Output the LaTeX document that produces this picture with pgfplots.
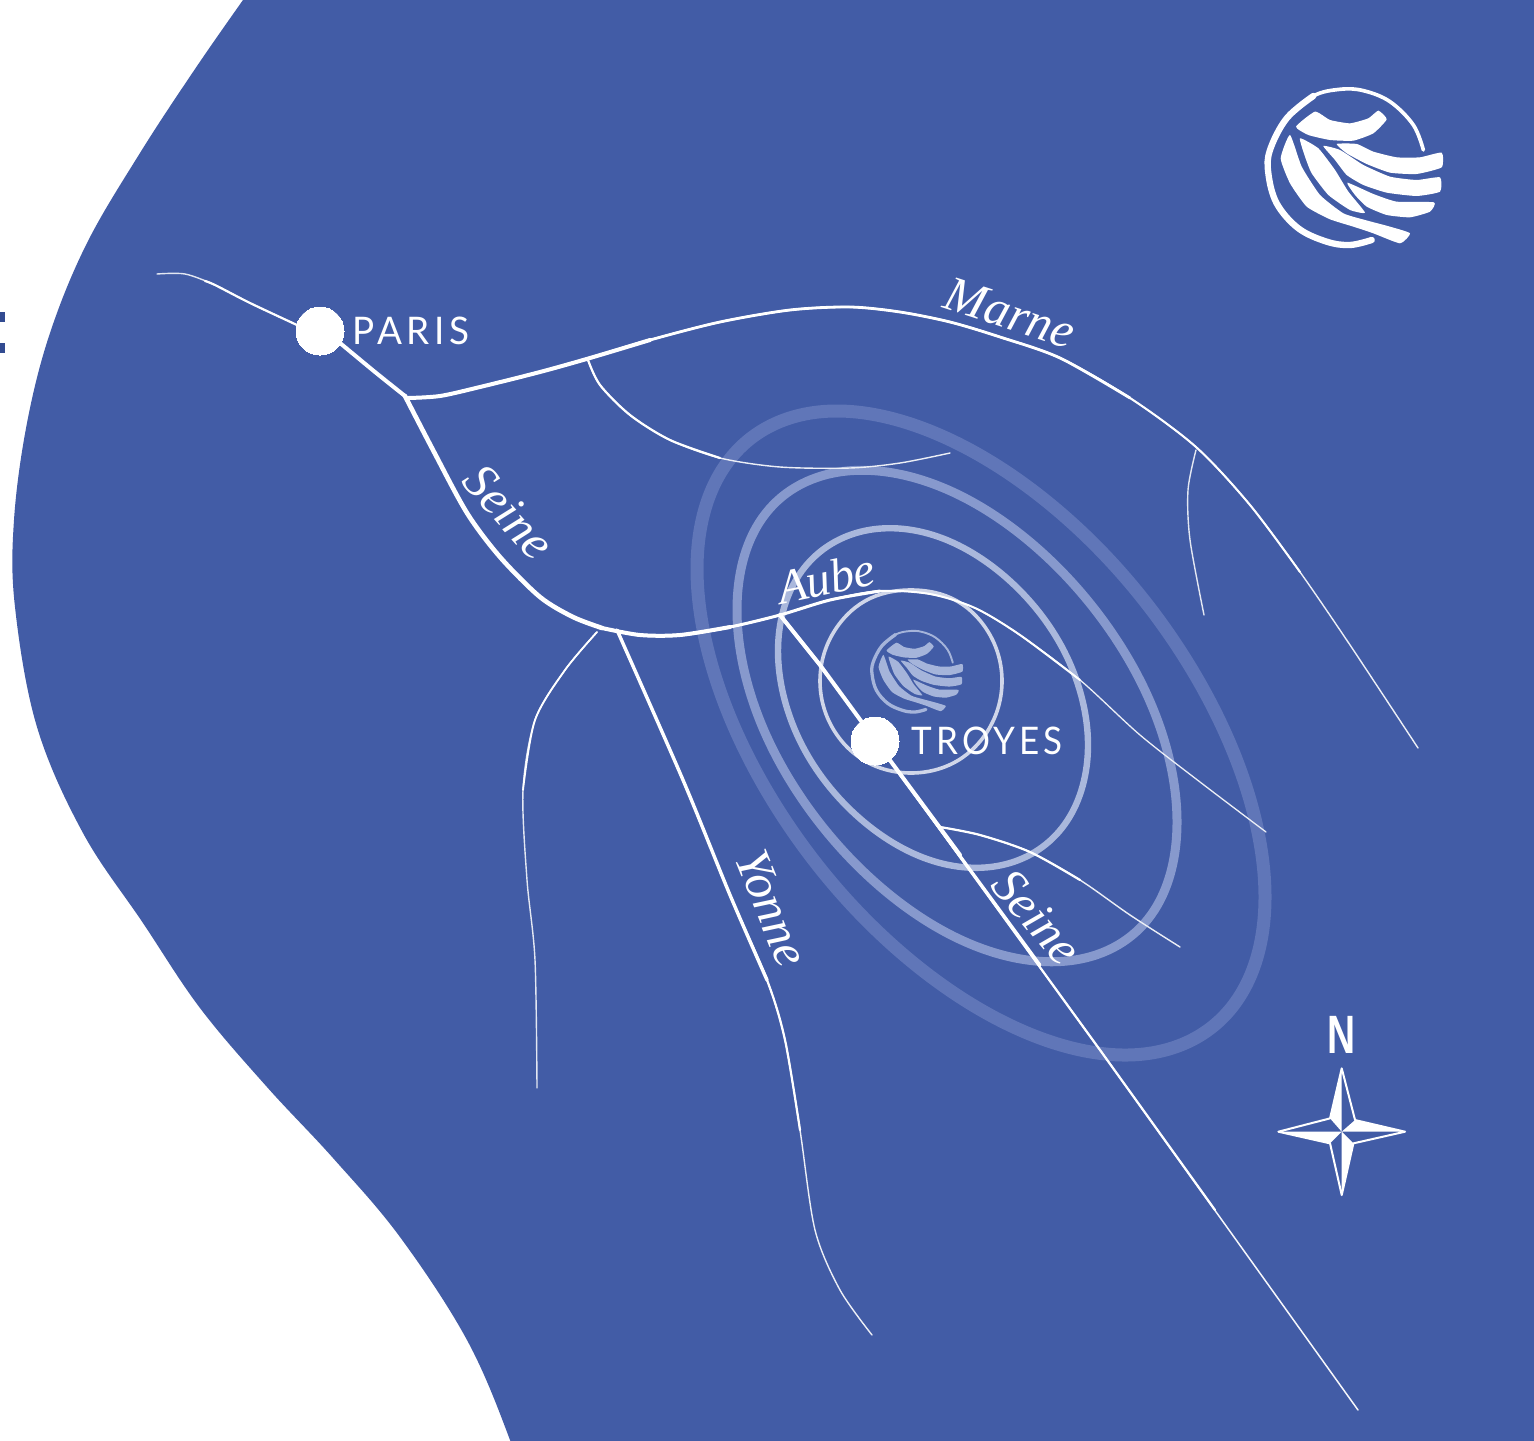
\documentclass[border=0pt]{standalone}
\usepackage{pgfplots}
\usepackage{fontspec}
\pgfplotsset{compat=1.18}
\setmainfont{Liberation Serif}
\newfontfamily\capsfont[LetterSpace=12]{Lato}
\newfontfamily\nfont{Liberation Sans}
\definecolor{land}{RGB}{66,92,166}
\definecolor{ringa}{RGB}{170,184,220}
\definecolor{ringb}{RGB}{135,153,205}
\definecolor{ringc}{RGB}{96,118,184}
\definecolor{smalllogo}{RGB}{165,180,218}
\definecolor{dark}{RGB}{50,75,145}
% logo drawn in zoom pixel units around its centre
\newcommand{\logo}[4]{%
\begin{scope}[shift={(#1pt,#2pt)},x=#3pt,y=-#3pt]
\begin{scope}[shift={(-315,-291)}]
\draw[#4,line width=11*#3pt,line cap=round] plot[smooth,tension=.6] coordinates {(550,240)(520,165)(450,95)(370,62)(300,58)(220,78)(140,145)};
\draw[#4,line width=19*#3pt,line cap=round] plot[smooth,tension=.6] coordinates {(220,78)(140,145)(90,240)(85,310)(110,400)(175,475)(260,515)(330,525)(395,510)};
\fill[#4] plot[smooth cycle,tension=.3] coordinates {(225,125)(270,150)(330,160)(385,145)(415,122)(440,148)(400,190)(340,212)(270,210)(205,195)(168,170)};
\fill[#4] plot[smooth cycle,tension=.3] coordinates {(290,222)(350,222)(400,245)(470,262)(540,262)(605,248)(605,292)(530,312)(450,308)(380,282)(320,250)};
\fill[#4] plot[smooth cycle,tension=.3] coordinates {(250,228)(300,240)(370,285)(450,320)(530,330)(600,322)(600,365)(530,378)(440,368)(370,345)(320,315)(285,270)};
\fill[#4] plot[smooth cycle,tension=.3] coordinates {(322,338)(400,372)(470,395)(582,397)(570,425)(510,442)(440,435)(380,410)(345,375)};
\fill[#4] plot[smooth cycle,tension=.3] coordinates {(180,205)(235,235)(285,300)(325,365)(375,428)(330,420)(265,375)(215,310)(195,260)};
\fill[#4] plot[smooth cycle,tension=.3] coordinates {(150,195)(185,290)(240,375)(310,430)(375,450)(450,470)(510,490)(480,520)(400,490)(340,470)(270,448)(200,410)(150,340)(122,265)};
\end{scope}
\end{scope}}
\begin{document}
\begin{tikzpicture}
\begin{axis}[
  width=767pt,height=720pt,scale only axis,
  xmin=0,xmax=1534,ymin=0,ymax=1440,y dir=reverse,
  hide axis,clip=true,
  line cap=round,line join=round,
  every axis plot/.append style={no markers}
]
\addplot[fill=white,draw=none] coordinates {(0,0)(1534,0)(1534,1440)(0,1440)} --cycle;
% land
\addplot[fill=land,draw=none,smooth,tension=.6] coordinates {(300,-80)(243,0)(193,72)(140,153)(87,243)(50,333)(27,423)(14,520)(15,607)(37,727)(83,833)(143,923)(200,1008)(267,1087)(333,1158)(400,1237)(467,1340)(510,1440)(535,1520)} -- (axis cs:1700,1520) -- (axis cs:1700,-80) -- cycle;
% fragment of a word at the left edge
\addplot[fill=dark,draw=none] coordinates {(0,312)(5,312)(5,322)(0,322)} --cycle;
\addplot[fill=dark,draw=none] coordinates {(0,343)(5,343)(5,353)(0,353)} --cycle;
% rings
\addplot[ringc,line width=6.5pt,smooth cycle,tension=.63] coordinates {(1265,897)(1227,1013)(1123,1055)(981,1010)(839,891)(735,729)(697,569)(735,453)(839,411)(981,456)(1123,575)(1227,737)};
\addplot[ringb,line width=4.5pt,smooth cycle,tension=.63] coordinates {(1177,822)(1148,919)(1067,961)(957,938)(847,855)(766,735)(737,610)(766,513)(847,471)(957,494)(1067,577)(1148,697)};
\addplot[ringa,line width=3.2pt,smooth cycle,tension=.63] coordinates {(1088,745)(1067,821)(1010,863)(933,861)(856,815)(799,739)(778,651)(799,575)(856,533)(933,535)(1010,581)(1067,657)};
\addplot[white!75!land,line width=1.8pt,smooth cycle,tension=.63] coordinates {(1002,681)(990,727)(957,761)(911,773)(865,761)(832,727)(820,681)(832,635)(865,601)(911,590)(957,601)(990,635)};
% Seine west of Paris
\addplot[white!85!land,line width=.7pt,smooth] coordinates {(157,274)(185,274)(215,285)(250,303)(297,325)};
\addplot[white,line width=1.1pt,smooth] coordinates {(205,281)(215,285)(250,303)(297,325)};
\addplot[white,line width=2pt,smooth] coordinates {(340,343)(375,372)(405,396)};
% Seine Paris to confluence
\addplot[white,line width=2.3pt,smooth] coordinates {(405,396)(433,450)(467,513)(500,557)(540,597)(573,617)(602,628)};
% Marne
\addplot[white!90!land,line width=.7pt,smooth] coordinates {(408,398)(440,396)(480,387)(540,372)(590,358)(650,340)(720,322)(790,310)(850,307)(900,312)(950,322)(1000,337)(1060,358)(1130,398)(1196,447)(1250,505)(1300,572)(1350,645)(1418,748)};
\addplot[white,line width=1pt,smooth] coordinates {(408,398)(440,396)(480,387)(540,372)(590,358)(650,340)(720,322)(790,310)(850,307)(900,312)(950,322)(1000,337)(1060,358)(1130,398)(1196,447)(1250,505)(1300,572)};
\addplot[white,line width=1.4pt,smooth] coordinates {(408,398)(440,396)(480,387)(540,372)(590,358)(650,340)(720,322)(790,310)(850,307)(900,312)(950,322)(1000,337)(1060,358)(1130,398)};
\addplot[white,line width=2pt,smooth] coordinates {(408,398)(440,396)(480,387)(540,372)(590,358)(650,340)};
% Marne tributaries
\addplot[white!90!land,line width=.7pt,smooth] coordinates {(588,360)(600,385)(630,415)(670,440)(720,458)(780,467)(850,468)(900,463)(950,453)};
\addplot[white,line width=1.1pt,smooth] coordinates {(588,360)(600,385)(630,415)(670,440)(720,458)};
\addplot[white!85!land,line width=.7pt,smooth] coordinates {(1196,450)(1188,490)(1190,540)(1204,615)};
% Aube
\addplot[white!90!land,line width=.65pt,smooth] coordinates {(602,628)(640,635)(680,635)(730,627)(780,615)(830,600)(880,591)(930,594)(975,608)(1020,635)(1080,680)(1140,735)(1200,782)(1266,832)};
\addplot[white,line width=1pt,smooth] coordinates {(602,628)(640,635)(680,635)(730,627)(780,615)(830,600)(880,591)(930,594)(975,608)(1020,635)(1080,680)};
\addplot[white,line width=1.5pt,smooth] coordinates {(602,628)(640,635)(680,635)(730,627)(780,615)(830,600)(880,591)};
\addplot[white,line width=2pt,smooth] coordinates {(602,628)(640,635)(680,635)(730,627)};
% Seine through Troyes
\addplot[white,line width=2pt] coordinates {(780,615)(820,665)(875,740)};
\addplot[white!95!land,line width=.75pt] coordinates {(875,740)(1100,1050)(1358,1410)};
\addplot[white,line width=1.1pt] coordinates {(875,740)(1100,1050)(1215,1210)};
\addplot[white,line width=1.5pt] coordinates {(875,740)(1040,965)};
\addplot[white,line width=2pt] coordinates {(875,740)(960,855)};
% tributary near Seine
\addplot[white!90!land,line width=.7pt,smooth] coordinates {(940,827)(980,835)(1030,852)(1080,880)(1130,915)(1180,947)};
\addplot[white,line width=1.1pt,smooth] coordinates {(940,827)(980,835)(1030,852)(1080,880)};
% Yonne
\addplot[white!90!land,line width=.7pt,smooth] coordinates {(617,630)(683,780)(730,895)(767,980)(785,1040)(800,1130)(815,1230)(840,1290)(872,1335)};
\addplot[white,line width=1.1pt,smooth] coordinates {(617,630)(683,780)(730,895)(767,980)(785,1040)(800,1130)};
\addplot[white,line width=1.7pt,smooth] coordinates {(617,630)(683,780)(730,895)(767,980)};
% western tributary
\addplot[white!85!land,line width=.7pt,smooth] coordinates {(597,632)(565,670)(535,720)(523,790)(527,880)(535,960)(537,1088)};
\addplot[white,line width=.9pt,smooth] coordinates {(597,632)(565,670)(535,720)(523,790)};
% towns
\addplot[only marks,mark=*,mark size=12pt,mark options={fill=white,draw=white,line width=0pt},forget plot] coordinates {(320,331)(875,741)};
% labels
\node[anchor=west,text=white,font=\capsfont\fontsize{19}{19}\selectfont,xscale=.97] at (axis cs:346,331) {PARIS};
\node[anchor=west,text=white,font=\capsfont\fontsize{19}{19}\selectfont,xscale=.92] at (axis cs:905,741) {TROYES};
\node[text=white,font=\itshape\fontsize{25}{25}\selectfont,rotate=-18] at (axis cs:1010,313) {Marne};
\node[text=white,font=\itshape\fontsize{25}{25}\selectfont,rotate=-48] at (axis cs:509,512) {Seine};
\node[text=white,font=\itshape\fontsize{25}{25}\selectfont,rotate=-50] at (axis cs:1037,917) {Seine};
\node[text=white,font=\itshape\fontsize{24}{24}\selectfont,rotate=12] at (axis cs:826,578) {Aube};
\node[text=white,font=\itshape\fontsize{25}{25}\selectfont,rotate=-68] at (axis cs:772,908) {Yonne};
\node[text=white,font=\nfont\bfseries\fontsize{27}{27}\selectfont,xscale=.72] at (axis cs:1342,1035) {N};
\end{axis}
\logo{672.5}{636.5}{.16667}{white}
\logo{456}{384.25}{.0867}{smalllogo}
% compass
\begin{scope}[shift={(670.85pt,154.15pt)},x=.16667pt,y=-.16667pt,line join=round]
\begin{scope}[shift={(-245,-395)}]
\fill[white] (245,205)--(210,355)--(245,395)--cycle;
\fill[white] (435,395)--(285,360)--(245,395)--cycle;
\fill[white] (245,585)--(280,430)--(245,395)--cycle;
\fill[white] (55,395)--(210,430)--(245,395)--cycle;
\draw[white,line width=1pt] (245,205)--(285,360)--(435,395)--(280,430)--(245,585)--(210,430)--(55,395)--(210,355)--cycle;
\end{scope}
\end{scope}
\end{tikzpicture}
\end{document}
